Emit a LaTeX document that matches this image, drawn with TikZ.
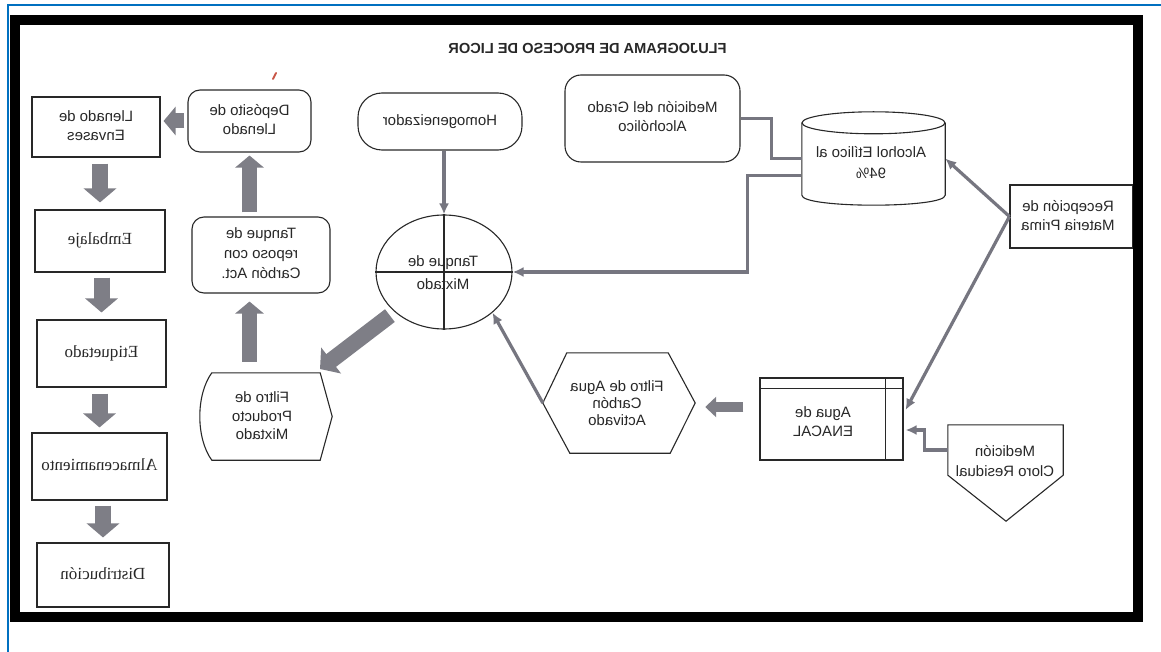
\documentclass[tikz,border=0pt]{standalone}
\usepackage{fontspec}
\setmainfont{Liberation Serif}
\setsansfont{Liberation Sans}
\usepackage{graphicx}
\usetikzlibrary{arrows.meta,calc,shapes.geometric}
\definecolor{frameblue}{RGB}{0,112,192}
\definecolor{conncol}{RGB}{118,118,128}
\definecolor{fatcol}{RGB}{126,126,134}
\definecolor{ink}{RGB}{40,40,40}
\definecolor{speck}{RGB}{200,85,70}
\newcommand{\mt}[1]{\reflectbox{\begin{tabular}{@{}c@{}}#1\end{tabular}}}
\begin{document}
\begin{tikzpicture}[x=1pt,y=-1pt,
  shapeline/.style={draw=ink, line width=1.1pt},
  sbox/.style={shapeline, rectangle, inner sep=0pt, font=\sffamily\fontsize{15}{19}\selectfont, text=ink},
  serifbox/.style={shapeline, rectangle, inner sep=0pt, font=\rmfamily\fontsize{17}{20}\selectfont, text=ink},
  rbox/.style={sbox, rounded corners=12pt},
  holder/.style={rectangle, inner sep=0pt, draw=none},
  lbl/.style={inner sep=0pt, font=\sffamily\fontsize{15}{19}\selectfont, text=ink},
  conn/.style={draw=conncol, line width=3.2pt, -{Latex[length=11pt,width=10pt]}},
  connplain/.style={draw=conncol, line width=3.2pt},
  fat/.style={draw=fatcol, line width=16pt, -{Triangle[length=14pt,width=32pt]}},
  fatmd/.style={draw=fatcol, line width=15pt, -{Triangle[length=12pt,width=28pt]}},
  fatsm/.style={draw=fatcol, line width=10pt, -{Triangle[length=11pt,width=20pt]}},
]
\useasboundingbox (0,0) rectangle (1161,652);
\fill[white] (0,0) rectangle (1161,652);

% title
\node[inner sep=0pt, text=ink] (title) at (587.5,48)
  {\reflectbox{\fontsize{14.6}{16}\selectfont\sffamily\bfseries FLUJOGRAMA DE PROCESO DE LICOR}};

% left column
\node[sbox, minimum width=128pt, minimum height=60pt] (llen) at (96,127) {\mt{Llenado de\\Envases}};
\node[serifbox, minimum width=130pt, minimum height=62pt] (emb) at (100,241) {\mt{Embalaje}};
\node[serifbox, minimum width=129pt, minimum height=67pt] (eti) at (101.5,353.5) {\mt{Etiquetado}};
\node[serifbox, minimum width=135pt, minimum height=67pt] (alm) at (99.5,466.5) {\mt{Almacenamiento}};
\node[serifbox, minimum width=132pt, minimum height=64pt] (dis) at (103,575) {\mt{Distribución}};

% second column
\node[rbox, minimum width=123pt, minimum height=62pt] (dep) at (249.5,121) {\mt{Depósito de\\Llenado}};
\node[rbox, minimum width=138pt, minimum height=76pt, font=\sffamily\fontsize{15}{20}\selectfont] (rep) at (261,255) {\mt{Tanque de\\reposo con\\Carbón Act.}};
\node[holder, minimum width=134pt, minimum height=87pt] (filp) at (265,416.5) {};
\draw[shapeline] ($(filp.north west)+(14,0)$) -- ($(filp.north east)+(-12,0)$) -- (filp.east)
  -- ($(filp.south east)+(-12,0)$) -- ($(filp.south west)+(14,0)$)
  .. controls ($(filp.south west)+(-2,-22)$) and ($(filp.north west)+(-2,22)$) .. cycle;
\node[lbl, font=\sffamily\fontsize{15}{18.5}\selectfont] (filpt) at (262,417.5) {\mt{Filtro de\\Producto\\Mixtado}};

% centre
\node[sbox, rounded corners=24pt, minimum width=164pt, minimum height=57pt] (hom) at (440,121.5) {\mt{Homogeneizador}};
\node[shapeline, ellipse, inner sep=0pt, minimum width=136pt, minimum height=114pt] (mix) at (444,272) {};
\draw[shapeline] (mix.north) -- (mix.south);
\draw[shapeline] (mix.west) -- (mix.east);
\node[lbl] (mixa) at (443,263) {\reflectbox{Tanque de}};
\node[lbl] (mixb) at (443,284) {\reflectbox{Mixtado}};

% right part
\node[rbox, rounded corners=16pt, minimum width=175pt, minimum height=87pt] (medg) at (652.5,118.5) {\mt{Medición del Grado\\Alcohólico}};
\node[holder, minimum width=143pt, minimum height=93pt] (cyl) at (873.5,158.5) {};
\draw[shapeline] ($(cyl.north)+(0,11)$) ellipse [x radius=71.5pt, y radius=11pt];
\draw[shapeline] ($(cyl.north west)+(0,11)$) -- ($(cyl.south west)+(0,-10)$)
  .. controls ($(cyl.south west)+(0,3.3)$) and ($(cyl.south east)+(0,3.3)$) .. ($(cyl.south east)+(0,-10)$)
  -- ($(cyl.north east)+(0,11)$);
\node[lbl, font=\sffamily\fontsize{15}{21}\selectfont] (cylt) at (871,164) {\mt{Alcohol Etílico al\\94\%}};

\node[sbox, minimum width=123pt, minimum height=63pt] (rec) at (1071.5,216.5) {};
\node[lbl] (rect) at (1068,217.5) {\mt{Recepción de\\Materia Prima}};

\node[shapeline, rectangle, inner sep=0pt, minimum width=143pt, minimum height=82pt] (agua) at (831.5,419) {};
\draw[shapeline] ($(agua.north west)+(0,11)$) -- ($(agua.north east)+(0,11)$);
\draw[shapeline] ($(agua.north east)+(-18,0)$) -- ($(agua.south east)+(-18,0)$);
\node[lbl] (aguat) at (823,423.5) {\mt{Agua de\\ENACAL}};

\node[holder, minimum width=152pt, minimum height=100pt] (hex) at (619,403) {};
\draw[shapeline] (hex.west) -- ($(hex.north west)+(24,0)$) -- ($(hex.north east)+(-27,0)$) -- (hex.east)
  -- ($(hex.south east)+(-25,0)$) -- ($(hex.south west)+(27,0)$) -- cycle;
\node[lbl, font=\sffamily\fontsize{15}{17}\selectfont] (hext) at (617,405) {\mt{Filtro de Agua\\Carbón\\Activado}};

\node[holder, minimum width=115pt, minimum height=50pt] (clo) at (1005.5,450) {};
\draw[shapeline] (clo.north west) -- (clo.north east) -- (clo.south east) -- ($(clo.south)+(0.5,46)$) -- (clo.south west) -- cycle;
\node[lbl, font=\sffamily\fontsize{15}{20}\selectfont] (clot) at (1005,462) {\mt{Medición\\Cloro Residual}};

% fat arrows
\draw[fat, shorten <=6pt, shorten >=7pt] (emb.north |- llen.south) -- (emb.north);
\draw[fat, shorten <=5pt, shorten >=7pt] (eti.north |- emb.south) -- (eti.north);
\draw[fat, shorten <=6pt, shorten >=5pt] (alm.north |- eti.south) -- (alm.north);
\draw[fat, shorten <=5pt, shorten >=5pt] (dis.north |- alm.south) -- (dis.north);
\draw[fatmd, shorten <=3pt, shorten >=3pt] (dep.west) -- (llen.east |- dep.west);
\draw[fatmd, shorten <=4pt, shorten >=3pt] (dep.south |- rep.north) -- (dep.south);
\draw[fatmd, shorten <=11pt, shorten >=8pt] (dep.south |- filp.north) -- (dep.south |- rep.south);
\coordinate (fpin) at (320,369);
\draw[fat, shorten <=6pt] (mix.219) -- (fpin);
\draw[fatsm] ($(agua.west)+(-16,-12)$) -- ($(hex.east)+(10,4)$);

% thin connectors
\draw[conn] (mix.north |- hom.south) -- (mix.north);
\draw[connplain] (medg.east) -- ++(31,0) |- (cyl.west);
\draw[conn] ($(cyl.west)+(-1,17)$) -- ++(-53,0) |- (mix.east);
\draw[conn] (rec.west) -- (cyl.east);
\draw[conn] (rec.west) -- ($(agua.east)+(2,-9)$);
\draw[conn] (clo.west) -- ++(-23,0) |- ($(agua.east)+(2,11)$);
\draw[conn] (hex.west) -- (mix.-40);

% speck
\draw[speck, line width=2pt, line cap=round] (273,79) -- (276,73);

% frames
\draw[line width=10pt] (15,20) rectangle (1138,617);
\draw[frameblue, line width=1.5pt] (1161,5) -- (8,5) -- (8,652);
\end{tikzpicture}
\end{document}
